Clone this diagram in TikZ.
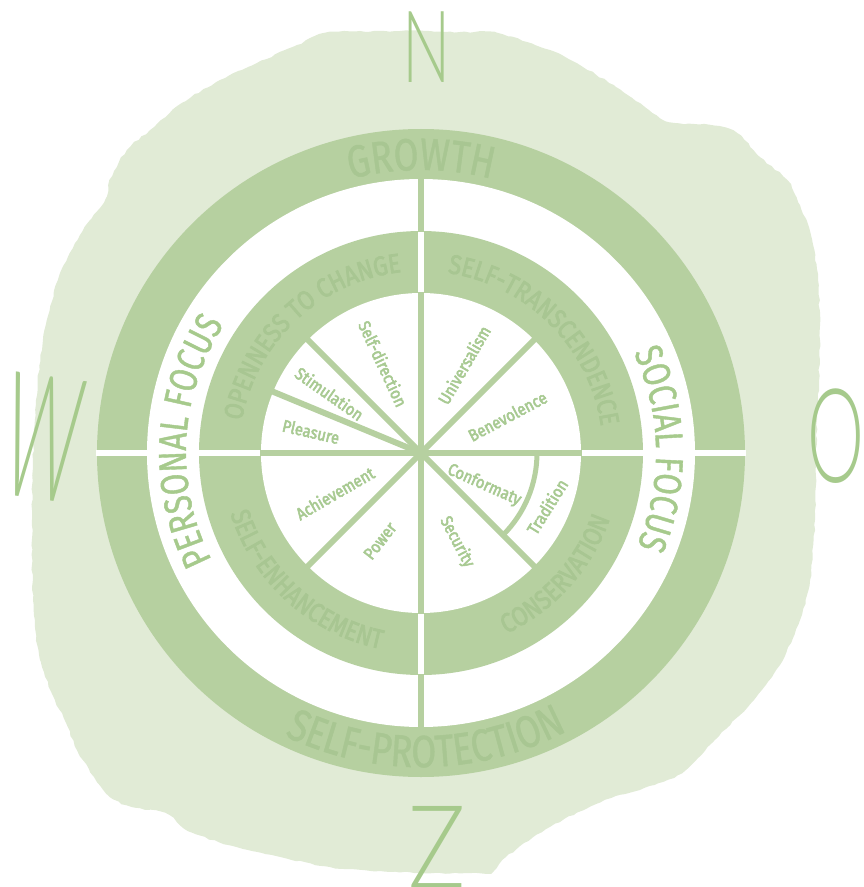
\documentclass[tikz,border=0pt]{standalone}
\usepackage{fontspec}
\usepackage{graphicx}
\setmainfont{Fira Sans}
\newfontfamily\handfont[FakeStretch=0.8, FakeBold=1]{Fira Sans}
\newfontfamily\compassfont{Lato Light}
\newfontfamily\groupfont[FakeStretch=0.85, FakeBold=2.5]{Fira Sans}
\newfontfamily\labelfont[FakeStretch=0.88, FakeBold=3]{Fira Sans}
\usetikzlibrary{decorations.text,decorations.pathmorphing}

\definecolor{blobgreen}{RGB}{225,235,214}
\definecolor{ringgreen}{RGB}{182,208,160}
\definecolor{ringtext}{RGB}{168,198,146}
\definecolor{labelgreen}{RGB}{168,202,146}
\definecolor{handgreen}{RGB}{166,202,140}

\newcommand\labelsize{\labelfont\fontsize{17}{17}\selectfont}
\newcommand\groupsize{\groupfont\fontsize{27}{28}\selectfont}
\newcommand\ringsize{\handfont\fontsize{45}{46}\selectfont}
\newcommand\focussize{\handfont\fontsize{39}{40}\selectfont}

\begin{document}
\begin{tikzpicture}[
      x=1pt, y=1pt,
      gap/.style={white, line width=6},
      spoke/.style={ringgreen, line width=6},
      lbl/.style={font=\labelsize, text=labelgreen, inner sep=0},
      compass/.style={font=\compassfont\fontsize{100}{100}\selectfont, text=handgreen, inner sep=0},
      arctext/.style 2 args={decorate, decoration={text along path, text align=center,
                 text color=#1, text={#2}}},
    ]
    \clip (-421,-434) rectangle (442,453);
    % paper blob behind the wheel
    \fill[blobgreen, decorate, decoration={random steps, segment length=5pt, amplitude=0.8pt}]
      plot[smooth cycle] coordinates {
        (-96,420) (-21,422) (39,421) (77,420) (129,403) (162,386) (195,366) (228,343)
        (248,331) (289,328) (316,320) (339,296) (366,273) (379,248) (391,213) (397,173)
        (399,113) (397,53) (395,-7) (394,-67) (389,-127) (379,-167) (359,-212) (333,-247)
        (294,-287) (261,-320) (219,-337) (184,-347) (129,-374) (85,-404) (69,-419)
        (19,-420) (-41,-418) (-91,-414) (-173,-397) (-228,-380) (-256,-360) (-289,-354)
        (-311,-344) (-327,-324) (-344,-297) (-355,-270) (-366,-247) (-381,-207)
        (-388,-147) (-389,-67) (-388,-7) (-385,53) (-378,113) (-363,173) (-341,218)
        (-316,253) (-311,273) (-294,303) (-267,326) (-239,350) (-201,373) (-173,386)
        (-124,408)};
    % rings
    \fill[ringgreen] (0,0) circle[radius=324];
    \fill[white]     (0,0) circle[radius=274];
    \fill[ringgreen] (0,0) circle[radius=222];
    \fill[white]     (0,0) circle[radius=160];
    % dividers
    \draw[gap] (-325,0) -- (-273,0);
    \draw[gap] (273,0) -- (325,0);
    \foreach \a in {0,90,180,270}
      \draw[gap] (\a:159) -- (\a:223);
    \foreach \a in {90,270}
      \draw[spoke] (\a:221) -- (\a:275);
    \foreach \a in {0,45,90,135,157.5,180,225,270,315}
      \draw[spoke] (0,0) -- (\a:161);
    \draw[spoke, line width=5] (0:116) arc[start angle=0, end angle=-45, radius=116];
    % outer ring texts
    \path[arctext={ringtext}{|\ringsize|GROWTH}]
      (150:283) arc[start angle=150, end angle=30, radius=283];
    \path[arctext={ringtext}{|\ringsize|SELF-PROTECTION}]
      (201:314) arc[start angle=201, end angle=341, radius=314];
    \path[arctext={handgreen}{|\focussize|PERSONAL FOCUS}]
      (237:235) arc[start angle=237, end angle=117, radius=235];
    \path[arctext={handgreen}{|\focussize|SOCIAL FOCUS}]
      (61:235) arc[start angle=61, end angle=-59, radius=235];
    % value groups
    \path[arctext={ringtext}{|\groupsize|OPENNESS TO CHANGE}]
      (193:182) arc[start angle=193, end angle=73, radius=182];
    \path[arctext={ringtext}{|\groupsize|SELF-TRANSCENDENCE}]
      (105:182) arc[start angle=105, end angle=-15, radius=182];
    \path[arctext={ringtext}{|\groupsize|SELF-ENHANCEMENT}]
      (168:200) arc[start angle=168, end angle=288, radius=200];
    \path[arctext={ringtext}{|\groupsize|CONSERVATION}]
      (-102:200) arc[start angle=-102, end angle=18, radius=200];
    % values
    \node[lbl, rotate=-65] (selfdir)  at (113:97)  {Self-direction};
    \node[lbl, rotate=-35] (stim)     at (147:109) {Stimulation};
    \node[lbl, rotate=-13] (pleasure) at (169:112) {Pleasure};
    \node[lbl, rotate=60]  (univ)     at (64:98)   {Universalism};
    \node[lbl, rotate=28]  (benev)    at (23:94)   {Benevolence};
    \node[lbl, rotate=-24] (conform)  at (-27:71)  {Conformaty};
    \node[lbl, rotate=58]  (trad)     at (-23:137) {Tradition};
    \node[lbl, rotate=-62] (security) at (-68:96)  {Security};
    \node[lbl, rotate=52]  (power)    at (-115:97) {Power};
    \node[lbl, rotate=30]  (achieve)  at (-155:95) {Achievement};
    % compass letters
    \node[compass] (north) at (6,406) {\scalebox{0.64}[1.0]{N}};
    \node[compass, rotate=-8] (west) at (-378,15) {\scalebox{0.74}[1.74]{W}};
    \node[compass] (east) at (415,17) {\scalebox{0.72}[1.31]{O}};
    \node[compass] (south) at (16,-394) {\scalebox{0.96}[1.16]{Z}};
  \end{tikzpicture}
\end{document}
